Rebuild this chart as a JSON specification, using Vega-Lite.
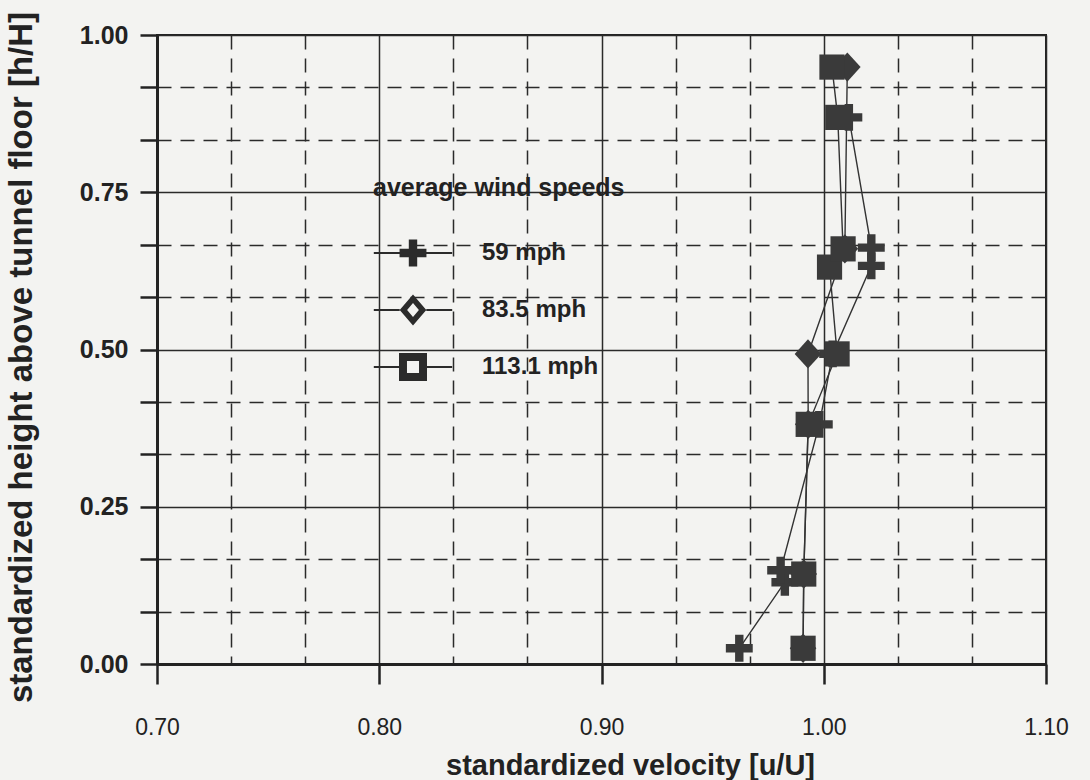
{
  "$schema": "https://vega.github.io/schema/vega-lite/v6.json",
  "autosize": "none",
  "width": 889,
  "height": 629,
  "padding": {"left": 157, "top": 35, "right": 44, "bottom": 116},
  "background": "#f3f3f1",
  "config": {
    "font": "Liberation Sans",
    "view": {"stroke": "#222222", "strokeWidth": 2}
  },
  "data": {
    "values": [
      {"series": "59 mph", "u": 0.962, "h": 0.025},
      {"series": "59 mph", "u": 0.9825, "h": 0.130},
      {"series": "59 mph", "u": 0.9806, "h": 0.149},
      {"series": "59 mph", "u": 0.998, "h": 0.381},
      {"series": "59 mph", "u": 1.004, "h": 0.493},
      {"series": "59 mph", "u": 1.0214, "h": 0.633},
      {"series": "59 mph", "u": 1.0214, "h": 0.662},
      {"series": "59 mph", "u": 1.0113, "h": 0.869},
      {"series": "83.5 mph", "u": 0.9907, "h": 0.025},
      {"series": "83.5 mph", "u": 0.991, "h": 0.143},
      {"series": "83.5 mph", "u": 0.993, "h": 0.381},
      {"series": "83.5 mph", "u": 0.9929, "h": 0.493},
      {"series": "83.5 mph", "u": 1.0095, "h": 0.660},
      {"series": "83.5 mph", "u": 1.0106, "h": 0.949},
      {"series": "113.1 mph", "u": 0.9907, "h": 0.025},
      {"series": "113.1 mph", "u": 0.991, "h": 0.143},
      {"series": "113.1 mph", "u": 0.993, "h": 0.381},
      {"series": "113.1 mph", "u": 1.006, "h": 0.493},
      {"series": "113.1 mph", "u": 1.0026, "h": 0.631},
      {"series": "113.1 mph", "u": 1.0087, "h": 0.660},
      {"series": "113.1 mph", "u": 1.0063, "h": 0.869},
      {"series": "113.1 mph", "u": 1.0037, "h": 0.949}
    ]
  },
  "encoding": {
    "x": {
      "field": "u", "type": "quantitative",
      "scale": {"domain": [0.7, 1.1], "nice": false, "zero": false},
      "axis": {
        "title": "standardized velocity [u/U]",
        "values": [0.7, 0.7333333, 0.7666667, 0.8, 0.8333333, 0.8666667, 0.9, 0.9333333, 0.9666667, 1.0, 1.0333333, 1.0666667, 1.1],
        "labelExpr": "abs(datum.value*10 - round(datum.value*10)) < 0.001 ? format(datum.value, '.2f') : ''",
        "labelFont": "Liberation Sans", "labelFontSize": 23, "labelFontWeight": "normal", "labelColor": "#222222",
        "labelPadding": 32, "labelFlush": false, "labelOverlap": false,
        "tickSize": 20, "tickWidth": 2.5, "tickColor": "#222222",
        "tickOpacity": {"condition": {"test": "abs(datum.value*10 - round(datum.value*10)) < 0.001", "value": 1}, "value": 0},
        "domainColor": "#222222", "domainWidth": 3,
        "grid": true, "gridColor": "#2a2a2a", "gridWidth": 1.5, "gridOpacity": 1,
        "gridDash": {"condition": {"test": "abs(datum.value*10 - round(datum.value*10)) < 0.001", "value": []}, "value": [14, 9]},
        "titleFont": "Liberation Sans", "titleFontSize": 29, "titleFontWeight": "bold", "titleColor": "#222222",
        "titleX": 473, "titleY": 110, "titleAlign": "center", "titleBaseline": "alphabetic", "titleLimit": 1000
      }
    },
    "y": {
      "field": "h", "type": "quantitative",
      "scale": {"domain": [0, 1], "nice": false, "zero": false},
      "axis": {
        "title": "standardized height above tunnel floor [h/H]",
        "values": [0, 0.0833333, 0.1666667, 0.25, 0.3333333, 0.4166667, 0.5, 0.5833333, 0.6666667, 0.75, 0.8333333, 0.9166667, 1],
        "labelExpr": "abs(datum.value*4 - round(datum.value*4)) < 0.001 ? format(datum.value, '.2f') : ''",
        "labelFont": "Liberation Sans", "labelFontSize": 25, "labelFontWeight": "bold", "labelColor": "#222222",
        "labelPadding": 12, "labelFlush": false, "labelOverlap": false,
        "tickSize": 17, "tickWidth": 2.5, "tickColor": "#222222",
        "domainColor": "#222222", "domainWidth": 3,
        "grid": true, "gridColor": "#2a2a2a", "gridWidth": 1.5, "gridOpacity": 1,
        "gridDash": {"condition": {"test": "abs(datum.value*4 - round(datum.value*4)) < 0.001", "value": []}, "value": [14, 9]},
        "titleFont": "Liberation Sans", "titleFontSize": 33, "titleFontWeight": "bold", "titleColor": "#222222",
        "titleAngle": 270, "titleX": -136, "titleY": 322, "titleAlign": "center", "titleBaseline": "middle", "titleLimit": 1000
      }
    }
  },
  "layer": [
    {
      "mark": {"type": "line", "color": "#333333", "strokeWidth": 1.4},
      "encoding": {
        "detail": {"field": "series"},
        "order": {"field": "h", "type": "quantitative"}
      }
    },
    {
      "mark": {"type": "point", "filled": true, "color": "#3a3a3a", "opacity": 1, "size": 784, "strokeWidth": 0},
      "encoding": {
        "shape": {
          "field": "series", "type": "nominal",
          "scale": {
            "domain": ["59 mph", "83.5 mph", "113.1 mph"],
            "range": [
              "M-0.96,-0.3H-0.3V-0.96H0.3V-0.3H0.96V0.3H0.3V0.96H-0.3V0.3H-0.96Z",
              "M0,-1.05L0.95,0L0,1.05L-0.95,0Z",
              "M-0.9,-0.9H0.9V0.9H-0.9Z"
            ]
          },
          "legend": null
        }
      }
    },
    {
      "mark": {"type": "point", "filled": true, "color": "#2b2b2b", "opacity": 0, "size": 784, "strokeWidth": 0},
      "encoding": {
        "shape": {
          "field": "series", "type": "nominal",
          "scale": {
            "domain": ["59 mph", "83.5 mph", "113.1 mph"],
            "range": [
              "M-0.96,-0.3H-0.3V-0.96H0.3V-0.3H0.96V0.3H0.3V0.96H-0.3V0.3H-0.96Z M-2.8,-0.07H-0.96V0.07H-2.8Z M0.96,-0.07H2.8V0.07H0.96Z",
              "M0,-1.1L0.95,0L0,1.1L-0.95,0Z M0,-0.5L-0.42,0L0,0.5L0.42,0Z M-2.8,-0.07H-0.95V0.07H-2.8Z M0.95,-0.07H2.8V0.07H0.95Z",
              "M-1,-1H1V1H-1Z M-0.43,-0.43V0.43H0.43V-0.43Z M-2.8,-0.07H-1V0.07H-2.8Z M1,-0.07H2.8V0.07H1Z"
            ]
          },
          "legend": {
            "title": "average wind speeds",
            "orient": "none",
            "legendX": 216,
            "legendY": 141,
            "titleFont": "Liberation Sans", "titleFontSize": 25, "titleFontWeight": "bold", "titleColor": "#222222",
            "titlePadding": 38, "titleLimit": 1000,
            "labelFont": "Liberation Sans", "labelFontSize": 24, "labelFontWeight": "bold", "labelColor": "#222222",
            "labelLimit": 500,
            "symbolSize": 784, "symbolOffset": 26, "labelOffset": 55, "rowPadding": 27,
            "symbolFillColor": "#2b2b2b", "symbolStrokeWidth": 0, "symbolOpacity": 1,
            "padding": 0,
            "encode": {"symbols": {"update": {"opacity": {"value": 1}, "fill": {"value": "#2b2b2b"}, "strokeWidth": {"value": 0}}}}
          }
        }
      }
    }
  ],
  "resolve": {"scale": {"shape": "independent"}}
}
